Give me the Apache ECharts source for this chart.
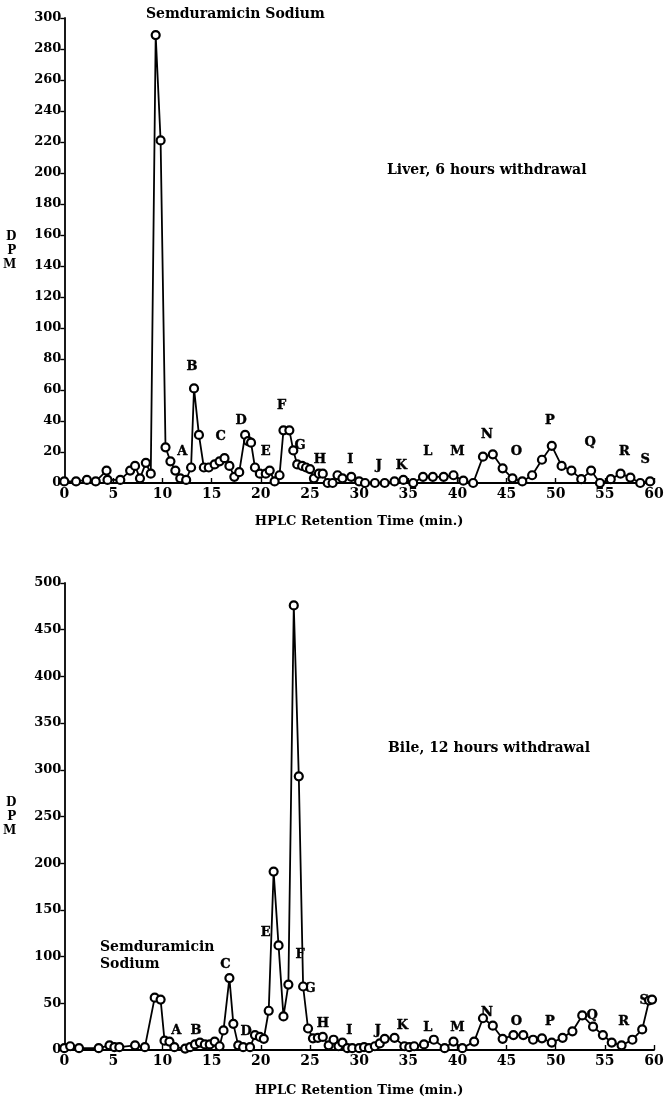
<!DOCTYPE html>
<html>
<head>
<meta charset="utf-8">
<script src="https://cdn.jsdelivr.net/npm/echarts@6/dist/echarts.min.js"></script>
<style>
html,body{margin:0;padding:0;background:#fff;}
#c{width:667px;height:1102px;}
</style>
</head>
<body>
<div id="c"></div>
<script>
// ---- Liver, 6 hours withdrawal ----
const liverX = [0,1.2,2.3,3.2,4.3,4.4,5.7,6.7,7.2,7.7,8.3,8.8,9.3,9.8,10.3,10.8,11.3,11.8,12.4,12.9,13.2,13.7,14.2,14.7,15.3,15.8,16.3,16.8,17.3,17.8,18.4,18.7,19.0,19.4,19.9,20.5,20.9,21.4,21.9,22.3,22.9,23.3,23.7,24.2,24.6,25.0,25.4,25.9,26.3,26.8,27.3,27.8,28.3,29.2,30.0,30.6,31.6,32.6,33.6,34.5,35.5,36.5,37.5,38.6,39.6,40.6,41.6,42.6,43.6,44.6,45.6,46.6,47.6,48.6,49.6,50.6,51.6,52.6,53.6,54.5,55.6,56.6,57.6,58.6,59.6];
const liverY = [1,1,2,1,8,2,2,8,11,3,13,6,289,221,23,14,8,3,2,10,61,31,10,10,12,14,16,11,4,7,31,27,26,10,6,6,8,1,5,34,34,21,12,11,10,9,3,6,6,0,0,5,3,4,1,0,0,0,1,2,0,4,4,4,5,1.5,0,17,18.5,9.5,3,1,5,15,24,11,8,2.5,8,0,2.5,6,3.5,0,1];
const liverPeakNames = ['A','B','C','D','E','F','G','H','I','J','K','L','M','N','O','P','Q','R','S'];
const liverPeakX = [12.0,13.0,15.9,18.0,20.5,22.1,24.0,26.0,29.1,32.0,34.3,37.0,40.0,43.0,46.0,49.4,53.5,57.0,59.1];
const liverPeakY = [20,75,30,40,20,50,24,15,15,11,11,20,20,31,20,40,26,20,15];

// ---- Bile, 12 hours withdrawal ----
const bileX = [0,0.6,1.5,3.5,4.6,5.1,5.6,7.2,8.2,9.2,9.8,10.2,10.7,11.2,12.3,12.8,13.3,13.8,14.3,14.8,15.3,15.8,16.2,16.8,17.2,17.7,18.2,18.9,19.4,19.9,20.3,20.8,21.3,21.8,22.3,22.8,23.35,23.86,24.3,24.8,25.3,25.8,26.3,26.9,27.4,27.9,28.3,28.8,29.3,30.0,30.5,31.0,31.6,32.1,32.6,33.6,34.6,35.1,35.6,36.6,37.6,38.7,39.6,40.5,41.7,42.6,43.6,44.6,45.7,46.7,47.7,48.6,49.6,50.7,51.7,52.7,53.8,54.8,55.7,56.7,57.8,58.8,59.5,59.8];
const bileY = [2,4,2,2,5,3,3,5,3,56,54,10,9,3,1.5,3,6,8,6,6,9,4,21,77,28,5,3,3,16,14,12,42,191,112,36,70,476,293,68,23,12.5,13,14,5,11,4,8,2,2,2,3,2,4,7,12,13,4,3,4,6,11,2,9,2,9,34,26,12,16,16,11,12.5,8,13,20,37,25,16,8,5,11,22,53,54];
const bilePeakNames = ['A','B','C','D','E','F','G','H','I','J','K','L','M','N','O','P','Q','R','S'];
const bilePeakX = [11.4,13.4,16.4,18.5,20.5,24.0,25.0,26.3,29.0,31.9,34.4,37.0,40.0,43.0,46.0,49.4,53.7,56.9,59.0];
const bilePeakY = [21,21,91,20,126,102,66,28,21,21,26,24,24,40,30,30,37,30,53];

const xTickStep = 5;
const liverYStep = 20;
const bileYStep = 50;

const FONT = 'DejaVu Serif';
const pairs = (xs, ys) => xs.map((x, i) => [x, ys[i]]);
const peaks = (names, xs, ys) => names.map((n, i) => ({value: [xs[i], ys[i]], name: n}));

function xAxisCfg(gridIndex, gap) {
  return {
    type: 'value', gridIndex, min: 0, max: 60, interval: xTickStep,
    name: 'HPLC Retention Time (min.)', nameLocation: 'middle', nameGap: gap,
    nameTextStyle: {fontFamily: FONT, fontSize: 13, fontWeight: 'bold', color: '#000'},
    axisLine: {lineStyle: {color: '#000', width: 1.8}},
    axisTick: {inside: true, length: 5, lineStyle: {color: '#000', width: 1.4}},
    axisLabel: {fontFamily: FONT, fontSize: 14, fontWeight: 'bold', color: '#000', margin: 4},
    splitLine: {show: false}
  };
}
function yAxisCfg(gridIndex, max, step) {
  return {
    type: 'value', gridIndex, min: 0, max, interval: step,
    name: 'D\nP\nM', nameLocation: 'middle', nameGap: 48, nameRotate: 0,
    nameTextStyle: {fontFamily: FONT, fontSize: 12, fontWeight: 'bold', color: '#000', lineHeight: 14},
    axisLine: {show: true, lineStyle: {color: '#000', width: 1.8}},
    axisTick: {show: true, length: 4, lineStyle: {color: '#000', width: 1.4}},
    axisLabel: {fontFamily: FONT, fontSize: 13, fontWeight: 'bold', color: '#000', margin: 3},
    splitLine: {show: false}
  };
}
function lineSeries(idx, data) {
  return {
    type: 'line', xAxisIndex: idx, yAxisIndex: idx, data,
    symbol: 'circle', symbolSize: 8, showSymbol: true,
    itemStyle: {color: '#fff', borderColor: '#000', borderWidth: 2.2},
    lineStyle: {color: '#000', width: 1.8},
    emphasis: {disabled: true}, silent: true
  };
}
function peakSeries(idx, data) {
  return {
    type: 'scatter', xAxisIndex: idx, yAxisIndex: idx, data,
    symbol: 'rect', symbolSize: 1, silent: true,
    itemStyle: {opacity: 1, color: 'rgba(255,255,255,0)'},
    label: {show: true, position: 'inside', formatter: '{b}',
      fontFamily: FONT, fontSize: 13, fontWeight: 'bold', color: '#000000',
      opacity: 1, textBorderColor: '#000', textBorderWidth: 0.4}
  };
}

const chart = echarts.init(document.getElementById('c'), null, {renderer: 'canvas'});
chart.setOption({
  animation: false,
  backgroundColor: '#fff',
  grid: [
    {left: 60, right: 13, top: 18, height: 465},
    {left: 60, right: 13, top: 583, height: 467}
  ],
  xAxis: [xAxisCfg(0, 32), xAxisCfg(1, 34)],
  yAxis: [yAxisCfg(0, 300, liverYStep), yAxisCfg(1, 500, bileYStep)],
  series: [
    lineSeries(0, pairs(liverX, liverY)),
    peakSeries(0, peaks(liverPeakNames, liverPeakX, liverPeakY)),
    lineSeries(1, pairs(bileX, bileY)),
    peakSeries(1, peaks(bilePeakNames, bilePeakX, bilePeakY))
  ],
  graphic: [
    {type: 'text', left: 146, top: 7, style: {text: 'Semduramicin Sodium', font: 'bold 14px "DejaVu Serif"', fill: '#000'}},
    {type: 'text', left: 387, top: 163, style: {text: 'Liver, 6 hours withdrawal', font: 'bold 14px "DejaVu Serif"', fill: '#000'}},
    {type: 'text', left: 388, top: 741, style: {text: 'Bile, 12 hours withdrawal', font: 'bold 14px "DejaVu Serif"', fill: '#000'}},
    {type: 'text', left: 100, top: 939, style: {text: 'Semduramicin\nSodium', font: 'bold 14px "DejaVu Serif"', lineHeight: 17, fill: '#000'}}
  ]
});
</script>
</body>
</html>
